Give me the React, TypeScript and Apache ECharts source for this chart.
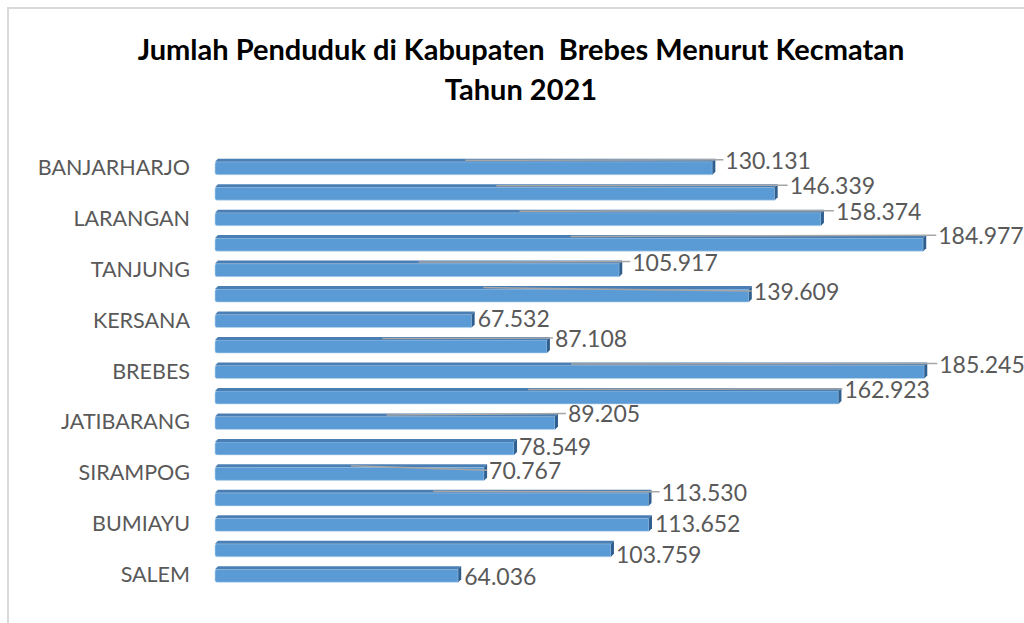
import React, { useEffect, useRef } from "react";
import * as echarts from "echarts";

const categories = [
  "SALEM", "BANTARKAWUNG", "BUMIAYU", "PAGUYANGAN", "SIRAMPOG", "TONJONG",
  "JATIBARANG", "WANASARI", "BREBES", "SONGGOM", "KERSANA", "LOSARI",
  "TANJUNG", "BULAKAMBA", "LARANGAN", "KETANGGUNGAN", "BANJARHARJO",
];
const population = [
  64036, 103759, 113652, 113530, 70767, 78549,
  89205, 162923, 185245, 87108, 67532, 139609,
  105917, 184977, 158374, 146339, 130131,
];
// label nudges (px), as moved by hand in the original chart
const labelOffsetX = [3, 2, 3, 10, 2, 2, 10, 3, 12, 5, 3, 2, 10, 12, 12, 12, 10];
const labelOffsetY = [4, 7, 2, -4, -0.1, 1.5, -6, -5, -5, -5, 0, -1, -5, -6, -5, -5, -5];

const titleText = "Jumlah Penduduk di Kabupaten  Brebes Menurut Kecmatan\nTahun 2021";
const FONT = "Lato, 'Open Sans', sans-serif";

function fmt(v: number): string {
  return String(v).replace(/\B(?=(\d{3})+(?!\d))/g, ".");
}

export default function App() {
  const ref = useRef<HTMLDivElement>(null);
  useEffect(() => {
    if (!ref.current) return;
    const chart = echarts.init(ref.current, null, { renderer: "svg" });
    const data = population.map((v, i) => [i, v]);
    chart.setOption({
      animation: false,
      backgroundColor: "#ffffff",
      graphic: [
        {
          type: "rect",
          shape: { x: 8, y: 8, width: 1100, height: 700 },
          style: { fill: "none", stroke: "#d9d9d9", lineWidth: 2 },
          silent: true,
        },
        {
          type: "text",
          x: 521,
          y: 28,
          style: {
            text: titleText,
            align: "center",
            verticalAlign: "top",
            fill: "#000000",
            font: `bold 29px ${FONT}`,
            lineHeight: 40,
          },
        },
      ],
      grid: { left: 215, right: 40, top: 154, bottom: 36 },
      xAxis: {
        type: "value",
        min: 0,
        max: 200000,
        show: false,
      },
      yAxis: {
        type: "category",
        data: categories,
        axisLine: { show: false },
        axisTick: { show: false },
        splitLine: { show: false },
        axisLabel: {
          interval: 1,
          margin: 25,
          color: "#595959",
          fontFamily: FONT,
          fontSize: 21.5,
        },
      },
      series: [
        {
          type: "custom",
          encode: { x: 1, y: 0 },
          data,
          renderItem: (params: any, api: any) => {
            const idx = api.value(0);
            const val = api.value(1);
            const p0 = api.coord([0, idx]);
            const p1 = api.coord([val, idx]);
            const band = api.size([0, 1])[1];
            const h = band * 0.63;
            const d = 3;
            const x0 = p0[0];
            const x1 = p1[0];
            const yTop = p0[1] - h / 2;
            const yBot = yTop + h;
            const i = params.dataIndex;
            const lx = x1 + labelOffsetX[i];
            const ly = p0[1] + labelOffsetY[i] - 2;
            const children: any[] = [
              {
                type: "rect",
                shape: { x: x0, y: yTop + d, width: x1 - d - x0, height: h - d, r: [2, 0, 0, 2] },
                style: { fill: "#5b9bd5", stroke: "#bdd7ee", lineWidth: 0.6 },
              },
              {
                type: "polygon",
                shape: {
                  points: [
                    [x0 + d, yTop],
                    [x1, yTop],
                    [x1 - d, yTop + d],
                    [x0, yTop + d],
                  ],
                },
                style: { fill: "#4a7fb5" },
              },
              {
                type: "polygon",
                shape: {
                  points: [
                    [x1 - d, yTop + d],
                    [x1, yTop],
                    [x1, yBot - d],
                    [x1 - d, yBot],
                  ],
                },
                style: { fill: "#2f5f8f" },
              },
            ];
            if (labelOffsetY[i] < 0) {
              children.push({
                type: "line",
                shape: { x1: (x0 + x1) / 2, y1: yTop + 1.5, x2: lx - 2, y2: ly },
                style: { stroke: "#a6a6a6", lineWidth: 1.5 },
              });
            }
            children.push({
              type: "text",
              x: lx,
              y: ly,
              style: {
                text: fmt(val),
                align: "left",
                verticalAlign: "middle",
                fill: "#595959",
                font: `23px ${FONT}`,
                lineHeight: 22,
              },
            });
            return { type: "group", children };
          },
        },
      ],
    });
    return () => chart.dispose();
  }, []);
  return (
    <div
      ref={ref}
      style={{ position: "absolute", left: 0, top: 0, width: 1024, height: 623 }}
    />
  );
}
